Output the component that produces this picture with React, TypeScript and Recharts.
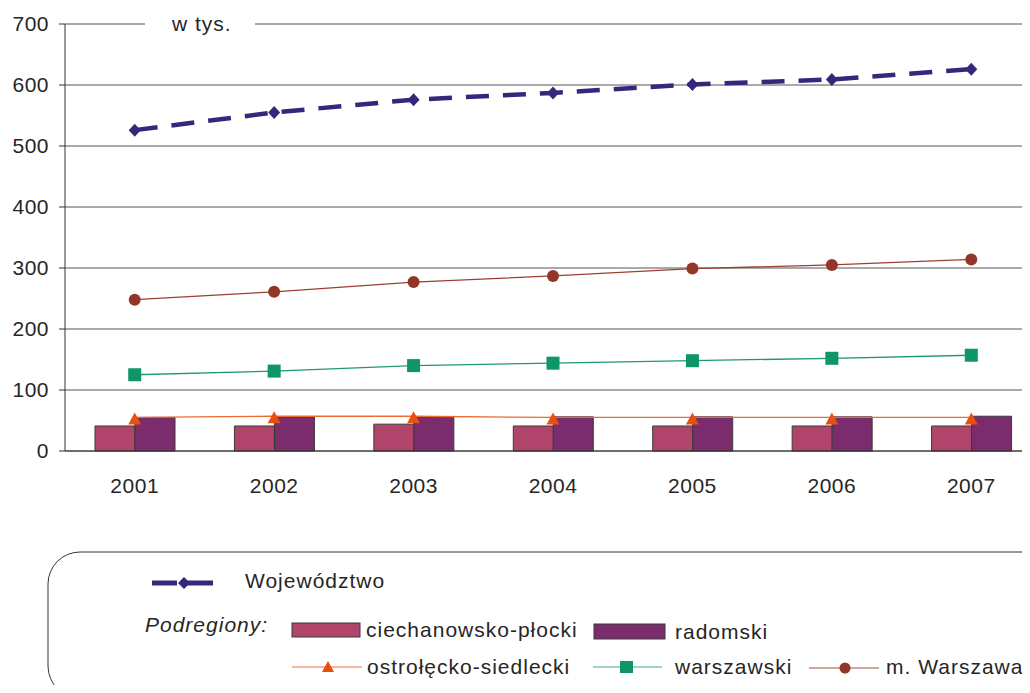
import React from "react";
import { ComposedChart, Bar, Line, XAxis, YAxis, CartesianGrid } from "recharts";

const years = ["2001", "2002", "2003", "2004", "2005", "2006", "2007"];
const wojewodztwo = [526, 555, 576, 587, 601, 609, 626];
const mWarszawa = [248, 261, 277, 287, 299, 305, 314];
const warszawski = [125, 131, 140, 144, 148, 152, 157];
const ostroleckoSiedlecki = [55, 57, 57, 55, 55, 55, 55];
const ciechanowskoPlocki = [41, 41, 44, 41, 41, 41, 41];
const radomski = [55, 56, 56, 56, 56, 56, 57];
const yTicks = [0, 100, 200, 300, 400, 500, 600, 700];

const data = years.map((y, i) => ({
  year: y,
  woj: wojewodztwo[i],
  mw: mWarszawa[i],
  war: warszawski[i],
  ost: ostroleckoSiedlecki[i],
  cie: ciechanowskoPlocki[i],
  rad: radomski[i],
}));

const FONT = "'Liberation Sans', Arial, sans-serif";
const TEXT = "#262626";

const Diamond = (p: any) => (
  <path key={p.index} d={`M${p.cx},${p.cy - 6.5} L${p.cx + 6},${p.cy} L${p.cx},${p.cy + 6.5} L${p.cx - 6},${p.cy} Z`} fill="#35277A" />
);
const Square = (p: any) => (
  <rect key={p.index} x={p.cx - 6.5} y={p.cy - 6.5} width={13} height={13} fill="#0E9668" />
);
const Dot = (p: any) => <circle key={p.index} cx={p.cx} cy={p.cy} r={6} fill="#93362A" />;
const Triangle = (p: any) => (
  <path key={p.index} d={`M${p.cx},${p.cy - 5} L${p.cx + 6.5},${p.cy + 7} L${p.cx - 6.5},${p.cy + 7} Z`} fill="#E8500F" />
);

const LegendBox = () => (
  <svg width={1030} height={693} style={{ position: "absolute", left: 0, top: 0, pointerEvents: "none" }}>
    <rect x={48} y={552} width={1012} height={146} rx={32} ry={32} fill="none" stroke="#333" strokeWidth={1} />
    <g fontFamily={FONT} fontSize={21} fill={TEXT} letterSpacing={1}>
      {/* Wojewodztwo */}
      <line x1={152} y1={583} x2={177} y2={583} stroke="#35277A" strokeWidth={5} />
      <line x1={184} y1={583} x2={213} y2={583} stroke="#35277A" strokeWidth={5} />
      <path d="M184,577 L190,583 L184,589 L178,583 Z" fill="#35277A" />
      <text x={245} y={588}>Województwo</text>

      <text x={145} y={632} fontStyle="italic">Podregiony:</text>

      <rect x={292} y={623} width={68} height={14} fill="#B0446A" stroke="#3a3a3a" />
      <text x={366} y={637}>ciechanowsko-płocki</text>
      <rect x={594} y={624} width={71} height={15} fill="#7A2C6C" stroke="#3a3a3a" />
      <text x={675} y={639}>radomski</text>

      <line x1={292} y1={667} x2={362} y2={667} stroke="#F4A080" strokeWidth={1.5} />
      <path d="M328,661 L334,672 L322,672 Z" fill="#E8500F" />
      <text x={367} y={674}>ostrołęcko-siedlecki</text>

      <line x1={593} y1={667} x2={662} y2={667} stroke="#7CC9A8" strokeWidth={1.5} />
      <rect x={620} y={661} width={13} height={12} fill="#0E9668" />
      <text x={675} y={674}>warszawski</text>

      <line x1={809} y1={668} x2={879} y2={668} stroke="#C08A80" strokeWidth={1.5} />
      <circle cx={845} cy={668} r={5.5} fill="#93362A" />
      <text x={886} y={674}>m. Warszawa</text>
    </g>
  </svg>
);

export default function App() {
  return (
    <div style={{ position: "relative", width: 1030, height: 693, margin: -8, overflow: "hidden", background: "#fff" }}>
      <ComposedChart
        width={1060}
        height={693}
        data={data}
        margin={{ top: 24, right: 19, left: 0, bottom: 182 }}
        barGap={0}
        style={{ position: "absolute", left: 0, top: 0 }}
      >
        <CartesianGrid vertical={false} stroke="#555" />
        <XAxis
          dataKey="year"
          height={60}
          axisLine={{ stroke: "#333" }}
          tickLine={false}
          tickSize={0}
          tickMargin={27}
          tick={{ fill: TEXT, fontSize: 21, fontFamily: FONT, letterSpacing: 0.5 }}
        />
        <YAxis
          width={65}
          domain={[0, 700]}
          ticks={yTicks}
          interval={0}
          axisLine={{ stroke: "#333" }}
          tickLine={{ stroke: "#333" }}
          tickSize={6}
          tickMargin={10}
          tick={{ fill: TEXT, fontSize: 21, fontFamily: FONT, letterSpacing: 0.5 }}
        />
        <Bar dataKey="cie" barSize={40} fill="#B0446A" stroke="#3a3a3a" isAnimationActive={false} />
        <Bar dataKey="rad" barSize={40} fill="#7A2C6C" stroke="#3a3a3a" isAnimationActive={false} />
        <Line dataKey="ost" stroke="#EE6A30" strokeWidth={1.3} dot={Triangle} activeDot={false} isAnimationActive={false} />
        <Line dataKey="war" stroke="#1E9A6A" strokeWidth={1.3} dot={Square} activeDot={false} isAnimationActive={false} />
        <Line dataKey="mw" stroke="#9A4030" strokeWidth={1.3} dot={Dot} activeDot={false} isAnimationActive={false} />
        <Line dataKey="woj" stroke="#35277A" strokeWidth={4.5} strokeDasharray="23 14" dot={Diamond} activeDot={false} isAnimationActive={false} />
      </ComposedChart>
      <div
        style={{
          position: "absolute",
          left: 145,
          top: 10,
          width: 110,
          height: 28,
          background: "#fff",
          fontFamily: FONT,
          fontSize: 21,
          letterSpacing: 1,
          color: TEXT,
          lineHeight: "28px",
          paddingLeft: 27,
          boxSizing: "border-box",
        }}
      >
        w tys.
      </div>
      <LegendBox />
    </div>
  );
}
